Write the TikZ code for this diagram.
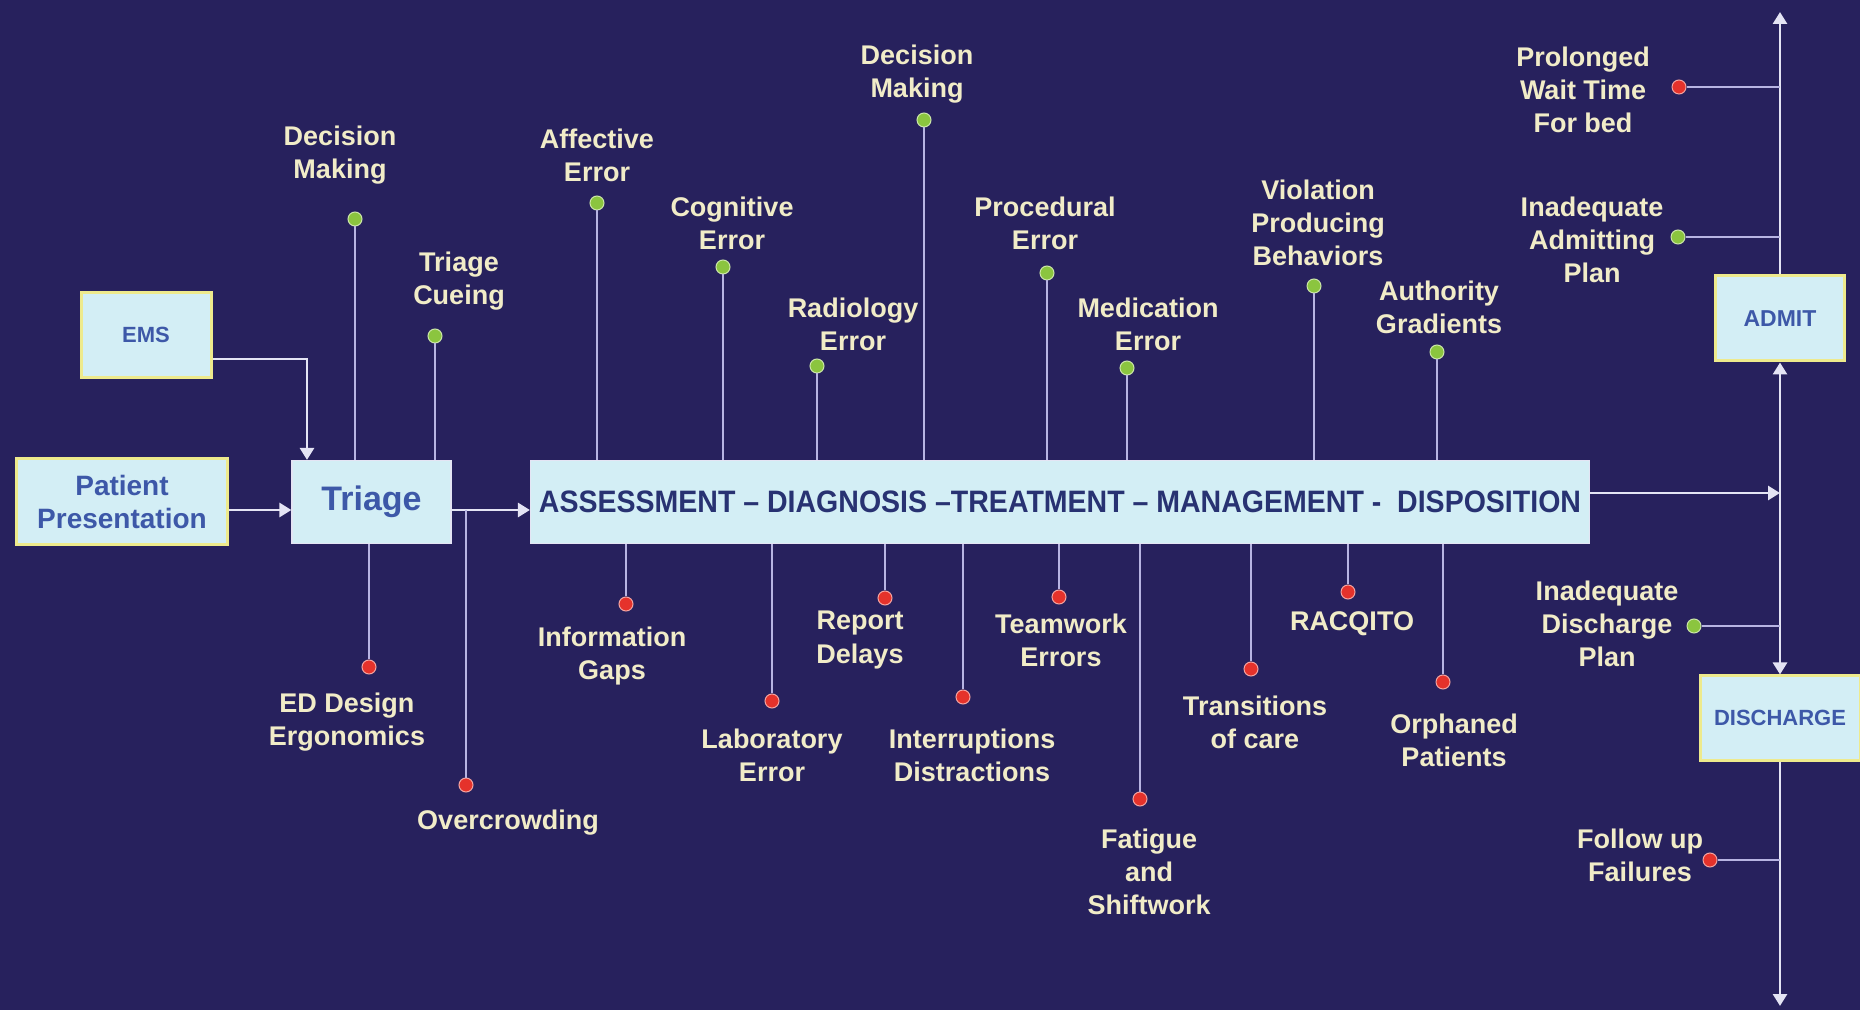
\documentclass[tikz,border=0pt]{standalone}
\usepackage{fontspec}
\usepackage{graphicx}
\setmainfont{Liberation Sans}
\usetikzlibrary{arrows.meta}
\definecolor{navyBg}{HTML}{27215D}
\definecolor{boxFill}{HTML}{D3EEF5}
\definecolor{boxText}{HTML}{3D58A8}
\definecolor{barText}{HTML}{283272}
\definecolor{gateEdge}{HTML}{EEEA8C}
\definecolor{lblCream}{HTML}{F1ECC8}
\definecolor{stemLilac}{HTML}{B7B4E2}
\definecolor{flowWhite}{HTML}{E4E4F4}
\definecolor{dotG}{HTML}{8BC53F}
\definecolor{dotR}{HTML}{E5322B}
\newcommand{\lblfont}{\fontsize{13.5}{16.6}\selectfont\bfseries}

\tikzset{
  stagebox/.style={draw=flowWhite, line width=0.6pt, fill=boxFill, text=boxText,
    align=center, inner sep=0pt},
  gatebox/.style={stagebox, draw=gateEdge, line width=1.5pt},
  flow/.style={draw=flowWhite, line width=1.4pt, -{Triangle[width=7pt,length=6pt]}},
  stem/.style={draw=stemLilac, line width=0.9pt},
  hazard/.style={circle, inner sep=0pt, minimum size=7pt, draw=white!55!#1,
    line width=0.5pt, fill=#1},
  hazlbl/.style={text=lblCream, font=\lblfont, align=center, inner sep=0pt},
}

\begin{document}
\begin{tikzpicture}[x=0.5pt, y=-0.5pt]
  \useasboundingbox (0,0) rectangle (1860,1010);
  \fill[navyBg] (0,0) rectangle (1860,1010);

  % entry boxes and the main process bar
  \node[gatebox, minimum width=105.5pt, minimum height=43pt,
        font=\fontsize{14}{16.6}\selectfont\bfseries] (patient) at (122,502) {Patient\\Presentation};
  \node[gatebox, minimum width=65pt, minimum height=42.5pt,
        font=\fontsize{11}{13}\selectfont\bfseries] (ems) at (146,335) {EMS};
  \node[stagebox, minimum width=79.5pt, minimum height=41.5pt,
        font=\fontsize{17}{20}\selectfont\bfseries] (triage) at (371.5,502) {Triage};
  \node[stagebox, minimum width=529.5pt, minimum height=41.5pt, text=barText,
        font=\fontsize{15.5}{17}\selectfont\bfseries] (bar) at (1060,502)
        {\scalebox{0.92}[1]{ASSESSMENT – DIAGNOSIS –TREATMENT – MANAGEMENT -~~DISPOSITION}};

  % admit / discharge on the outflow axis
  \node[gatebox, minimum width=64.5pt, minimum height=42.5pt,
        font=\fontsize{11.5}{13}\selectfont\bfseries] (admit) at (1780,318.5) {ADMIT};
  \node[gatebox, minimum width=80pt, minimum height=42pt,
        font=\fontsize{11}{13}\selectfont\bfseries] (discharge) at (1780,718) {DISCHARGE};

  \coordinate (emsout) at ([yshift=-12pt]ems.east);
  \coordinate (triin) at ([xshift=-32.25pt]triage.north);
  \coordinate (triout) at ([yshift=-4pt]triage.east);
  \coordinate (barout) at ([yshift=4.5pt]bar.east);
  \coordinate (axmid) at (barout -| admit.center);
  \coordinate (axtop) at (1780,12);
  \coordinate (axbot) at (1780,1006);

  % flow arrows
  \draw[flow] ([yshift=-4pt]patient.east) -- ([yshift=-4pt]triage.west);
  \draw[flow] (emsout) -| (triin);
  \draw[flow] (triout) -- (triout -| bar.west);
  \draw[flow] (barout) -- (axmid);
  \draw[flow] (axmid) -- (admit.south);
  \draw[flow] (admit.north) -- (axtop);
  \draw[flow] (axmid) -- (discharge.north);
  \draw[flow] (discharge.south) -- (axbot);

  % hazards above triage
  \foreach \n/\x/\y/\lx/\ly/\t in {
    tdecide/355/219/340/155/{Decision\\Making},
    tcue/435/336/459/281/{Triage\\Cueing}} {
    \node[hazard=dotG] (\n) at (\x,\y) {};
    \node[hazlbl] (\n-lbl) at (\lx,\ly) {\t};
    \draw[stem] (\n) -- (\n |- triage.north);
  }

  % hazards above the bar
  \foreach \n/\x/\y/\lx/\ly/\t in {
    affect/597/203/597/155/{Affective\\Error},
    cognit/723/267/732/223/{Cognitive\\Error},
    radio/817/366/853/324/{Radiology\\Error},
    decide/924/120/917/74/{Decision\\Making},
    proced/1047/273/1045/223/{Procedural\\Error},
    medic/1127/368/1148/324/{Medication\\Error},
    violat/1314/286/1318/223/{Violation\\Producing\\Behaviors},
    author/1437/352/1439/307/{Authority\\Gradients}} {
    \node[hazard=dotG] (\n) at (\x,\y) {};
    \node[hazlbl] (\n-lbl) at (\lx,\ly) {\t};
    \draw[stem] (\n) -- (\n |- bar.north);
  }

  % hazards below triage
  \node[hazard=dotR] (design) at (369,667) {};
  \node[hazlbl] (design-lbl) at (347,722) {ED Design\\Ergonomics};
  \draw[stem] (design) -- (design |- triage.south);
  \node[hazard=dotR] (crowd) at (466,785) {};
  \node[hazlbl] (crowd-lbl) at (508,823) {Overcrowding};
  \draw[stem] (crowd) -- (crowd |- triout);

  % hazards below the bar
  \foreach \n/\x/\y/\lx/\ly/\t in {
    infogap/626/604/612/656/{Information\\Gaps},
    labor/772/701/772/755/{Laboratory\\Error},
    report/885/598/860/640/{Report\\Delays},
    interr/963/697/972/755/{Interruptions\\Distractions},
    team/1059/597/1061/640/{Teamwork\\Errors},
    fatigue/1140/799/1149/872/{Fatigue\\and\\Shiftwork},
    transit/1251/669/1255/722/{Transitions\\of care},
    racq/1348/592/1352/624/{RACQITO},
    orphan/1443/682/1454/740/{Orphaned\\Patients}} {
    \node[hazard=dotR] (\n) at (\x,\y) {};
    \node[hazlbl] (\n-lbl) at (\lx,\ly) {\t};
    \draw[stem] (\n) -- (\n |- bar.south);
  }

  % hazards on the outflow axis
  \foreach \n/\c/\x/\y/\lx/\ly/\t in {
    waitbed/dotR/1679/87/1583/90/{Prolonged\\Wait Time\\For bed},
    admplan/dotG/1678/237/1592/240/{Inadequate\\Admitting\\Plan},
    displan/dotG/1694/626/1607/624/{Inadequate\\Discharge\\Plan},
    follow/dotR/1710/860/1640/855/{Follow up\\Failures}} {
    \node[hazard=\c] (\n) at (\x,\y) {};
    \node[hazlbl] (\n-lbl) at (\lx,\ly) {\t};
    \draw[stem] (\n) -- (\n -| axmid);
  }
\end{tikzpicture}
\end{document}
